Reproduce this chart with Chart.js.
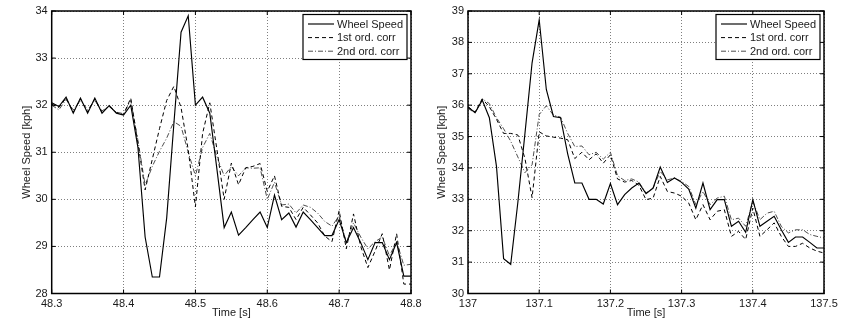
<!DOCTYPE html>
<html>
<head>
<meta charset="utf-8">
<script src="https://cdn.jsdelivr.net/npm/chart.js@4/dist/chart.umd.min.js"></script>
<style>
  html, body { margin: 0; padding: 0; background: #fff; }
  #wrap { position: relative; width: 854px; height: 321px; overflow: hidden; }
  .panel { position: absolute; top: 0; height: 321px; }
</style>
</head>
<body>
<div id="wrap">
  <div class="panel" style="left:0;width:430px"><canvas id="left" width="430" height="321"></canvas></div>
  <div class="panel" style="left:420px;width:434px"><canvas id="right" width="434" height="321"></canvas></div>
</div>
<script>
// ---- series names ----
const seriesLabels = ['Wheel Speed', '1st ord. corr', '2nd ord. corr'];
const xTitle = 'Time [s]';
const yTitle = 'Wheel Speed [kph]';

// ---- left panel: 48.3 .. 48.8 s ----
const timesL = [48.30, 48.31, 48.32, 48.33, 48.34, 48.35, 48.36, 48.37, 48.38, 48.39,
                48.40, 48.41, 48.42, 48.43, 48.44, 48.45, 48.46, 48.47, 48.48, 48.49,
                48.50, 48.51, 48.52, 48.53, 48.54, 48.55, 48.56, 48.57, 48.58, 48.59,
                48.60, 48.61, 48.62, 48.63, 48.64, 48.65, 48.66, 48.67, 48.68, 48.69,
                48.70, 48.71, 48.72, 48.73, 48.74, 48.75, 48.76, 48.77, 48.78, 48.79, 48.80];
const wheelL = [32.05, 31.97, 32.17, 31.83, 32.15, 31.83, 32.15, 31.83, 31.99, 31.83,
                31.79, 32.00, 31.10, 29.20, 28.35, 28.35, 29.60, 31.60, 33.55, 33.90,
                32.00, 32.17, 31.83, 30.63, 29.40, 29.73, 29.24, 29.40, 29.57, 29.73,
                29.40, 30.09, 29.57, 29.71, 29.41, 29.73, 29.57, 29.40, 29.23, 29.23,
                29.57, 29.08, 29.40, 29.08, 28.72, 29.08, 29.08, 28.72, 29.08, 28.37, 28.37];
const corr1L = [32.02, 31.95, 32.15, 31.85, 32.13, 31.86, 32.13, 31.85, 31.98, 31.84,
                31.80, 32.15, 31.20, 30.20, 30.85, 31.50, 32.10, 32.40, 31.95, 31.05,
                29.84, 31.40, 32.05, 31.05, 30.00, 30.77, 30.31, 30.67, 30.70, 30.76,
                30.17, 30.50, 29.85, 29.83, 29.57, 29.83, 29.67, 29.50, 29.22, 29.10,
                29.76, 28.95, 29.69, 29.00, 28.55, 28.90, 29.27, 28.50, 29.27, 28.20, 28.20];
const corr2L = [32.00, 31.90, 32.12, 31.90, 32.10, 31.90, 32.10, 31.88, 31.97, 31.85,
                31.82, 32.10, 31.25, 30.30, 30.70, 31.02, 31.30, 31.65, 31.55, 31.00,
                30.50, 31.10, 31.40, 30.90, 30.50, 30.70, 30.50, 30.67, 30.66, 30.67,
                30.00, 30.36, 29.88, 29.90, 29.71, 29.88, 29.83, 29.71, 29.53, 29.43,
                29.65, 29.08, 29.50, 29.20, 28.95, 29.10, 29.20, 28.80, 29.10, 28.60, 28.62];
const xTicksL = [48.3, 48.4, 48.5, 48.6, 48.7, 48.8];
const yTicksL = [28, 29, 30, 31, 32, 33, 34];

// ---- right panel: 137.0 .. 137.5 s ----
const timesR = [137.00, 137.01, 137.02, 137.03, 137.04, 137.05, 137.06, 137.07, 137.08, 137.09,
                137.10, 137.11, 137.12, 137.13, 137.14, 137.15, 137.16, 137.17, 137.18, 137.19,
                137.20, 137.21, 137.22, 137.23, 137.24, 137.25, 137.26, 137.27, 137.28, 137.29,
                137.30, 137.31, 137.32, 137.33, 137.34, 137.35, 137.36, 137.37, 137.38, 137.39,
                137.40, 137.41, 137.42, 137.43, 137.44, 137.45, 137.46, 137.47, 137.48, 137.49, 137.50];
const wheelR = [35.94, 35.76, 36.16, 35.60, 34.05, 31.11, 30.93, 32.90, 35.10, 37.35,
                38.72, 36.50, 35.64, 35.60, 34.45, 33.52, 33.52, 33.00, 33.00, 32.85,
                33.50, 32.83, 33.15, 33.36, 33.52, 33.18, 33.36, 34.03, 33.54, 33.68,
                33.54, 33.33, 32.72, 33.52, 32.67, 32.99, 32.99, 32.14, 32.30, 31.95,
                32.99, 32.14, 32.30, 32.46, 32.03, 31.63, 31.80, 31.80, 31.63, 31.45, 31.45];
const corr1R = [35.95, 35.78, 36.20, 35.95, 35.55, 35.10, 35.10, 35.05, 34.30, 33.05,
                35.15, 35.02, 34.98, 34.95, 34.90, 34.30, 34.50, 34.26, 34.45, 34.15,
                34.42, 33.65, 33.55, 33.60, 33.45, 32.99, 33.04, 33.73, 33.25, 33.20,
                33.10, 32.88, 32.35, 32.83, 32.35, 32.62, 32.67, 31.82, 31.98, 31.72,
                32.72, 31.82, 32.03, 32.25, 31.82, 31.50, 31.50, 31.60, 31.45, 31.35, 31.29];
const corr2R = [35.90, 35.75, 36.20, 36.05, 35.60, 35.25, 34.85, 34.35, 33.85, 34.10,
                35.70, 35.98, 35.68, 35.62, 35.10, 34.68, 34.70, 34.42, 34.50, 34.28,
                34.50, 33.75, 33.60, 33.65, 33.55, 33.20, 33.36, 33.89, 33.62, 33.68,
                33.57, 33.41, 32.83, 33.25, 32.83, 33.04, 33.10, 32.35, 32.40, 32.14,
                32.94, 32.35, 32.56, 32.62, 32.14, 31.93, 32.03, 32.03, 31.88, 31.82, 31.77];
const xTicksR = [137.0, 137.1, 137.2, 137.3, 137.4, 137.5];
const yTicksR = [30, 31, 32, 33, 34, 35, 36, 37, 38, 39];

// ---- shared styling ----
const FONT = { family: '"Liberation Sans", Arial, Helvetica, sans-serif', size: 11 };
const TEXT_COLOR = '#1a1a1a';
const GRID_COLOR = 'rgba(0,0,0,0.5)';
const lineStyles = [
  { borderColor: '#000', borderWidth: 1.15, borderDash: [] },
  { borderColor: '#000', borderWidth: 1.0, borderDash: [4, 3] },
  { borderColor: '#3a3a3a', borderWidth: 0.9, borderDash: [5, 2, 1, 2] }
];

function fmtTick(v) { return String(Number(v.toFixed(1))); }

// Axes box, inward tick marks and the boxed legend in the upper right corner
const framePlugin = {
  id: 'frame',
  afterDatasetsDraw(chart) {
    const { ctx, chartArea: a, scales: { x, y } } = chart;
    ctx.save();
    ctx.setLineDash([]);
    ctx.strokeStyle = '#000';
    ctx.lineWidth = 1;
    ctx.beginPath();
    x.ticks.forEach(t => {
      const px = x.getPixelForValue(t.value);
      ctx.moveTo(px, a.bottom); ctx.lineTo(px, a.bottom - 4);
      ctx.moveTo(px, a.top); ctx.lineTo(px, a.top + 4);
    });
    y.ticks.forEach(t => {
      const py = y.getPixelForValue(t.value);
      ctx.moveTo(a.left, py); ctx.lineTo(a.left + 4, py);
      ctx.moveTo(a.right, py); ctx.lineTo(a.right - 4, py);
    });
    ctx.stroke();
    ctx.lineWidth = 1.5;
    ctx.strokeRect(a.left, a.top, a.right - a.left, a.bottom - a.top);

    // legend
    const bw = 104, bh = 45;
    const bx = a.right - 4 - bw, by = a.top + 3.5;
    ctx.fillStyle = '#fff';
    ctx.fillRect(bx, by, bw, bh);
    ctx.lineWidth = 1.2;
    ctx.strokeRect(bx, by, bw, bh);
    ctx.font = FONT.size + 'px ' + FONT.family;
    ctx.textBaseline = 'middle';
    ctx.textAlign = 'left';
    chart.data.datasets.forEach((ds, i) => {
      const ry = by + 9.5 + i * 13.6;
      ctx.save();
      ctx.strokeStyle = ds.borderColor;
      ctx.lineWidth = ds.borderWidth;
      ctx.setLineDash(ds.borderDash || []);
      ctx.beginPath();
      ctx.moveTo(bx + 5, ry);
      ctx.lineTo(bx + 31, ry);
      ctx.stroke();
      ctx.restore();
      ctx.fillStyle = TEXT_COLOR;
      ctx.fillText(ds.label, bx + 34, ry + 0.5);
    });
    ctx.restore();
  }
};

function buildChart(id, p) {
  const series = [p.wheel, p.c1, p.c2];
  return new Chart(document.getElementById(id), {
    type: 'line',
    data: {
      datasets: series.map((vals, k) => ({
        label: seriesLabels[k],
        data: p.times.map((t, i) => ({ x: t, y: vals[i] })),
        borderColor: lineStyles[k].borderColor,
        borderWidth: lineStyles[k].borderWidth,
        borderDash: lineStyles[k].borderDash,
        pointRadius: 0,
        tension: 0,
        fill: false
      }))
    },
    options: {
      responsive: false,
      animation: false,
      devicePixelRatio: 1,
      layout: { padding: { left: 0, top: 11, right: p.padRight, bottom: 0 } },
      plugins: { legend: { display: false }, tooltip: { enabled: false } },
      scales: {
        x: {
          type: 'linear',
          min: p.xTicks[0],
          max: p.xTicks[p.xTicks.length - 1],
          afterBuildTicks: s => { s.ticks = p.xTicks.map(v => ({ value: v })); },
          afterFit: s => { s.height = 27.5; },
          ticks: { padding: 4, maxRotation: 0, autoSkip: false, font: FONT, color: TEXT_COLOR,
                   callback: v => fmtTick(v) },
          grid: { color: GRID_COLOR, lineWidth: 1, drawTicks: false, borderDash: [1, 2] },
          border: { display: false, dash: [1, 2] },
          title: { display: true, text: xTitle, font: FONT, color: TEXT_COLOR,
                   padding: { top: 0, bottom: 1 } }
        },
        y: {
          type: 'linear',
          min: p.yTicks[0],
          max: p.yTicks[p.yTicks.length - 1],
          afterBuildTicks: s => { s.ticks = p.yTicks.map(v => ({ value: v })); },
          afterFit: s => { s.width = p.yWidth; },
          ticks: { padding: 4, font: FONT, color: TEXT_COLOR, callback: v => fmtTick(v) },
          grid: { color: GRID_COLOR, lineWidth: 1, drawTicks: false, borderDash: [1, 2] },
          border: { display: false, dash: [1, 2] },
          title: { display: true, text: yTitle, font: FONT, color: TEXT_COLOR,
                   padding: { top: p.yTitlePad, bottom: 0 } }
        }
      }
    },
    plugins: [framePlugin]
  });
}

buildChart('left', {
  times: timesL, wheel: wheelL, c1: corr1L, c2: corr2L,
  xTicks: xTicksL, yTicks: yTicksL, yWidth: 51.7, padRight: 19, yTitlePad: 20.1
});
buildChart('right', {
  times: timesR, wheel: wheelR, c1: corr1R, c2: corr2R,
  xTicks: xTicksR, yTicks: yTicksR, yWidth: 48, padRight: 30, yTitlePad: 15.1
});
</script>
</body>
</html>
